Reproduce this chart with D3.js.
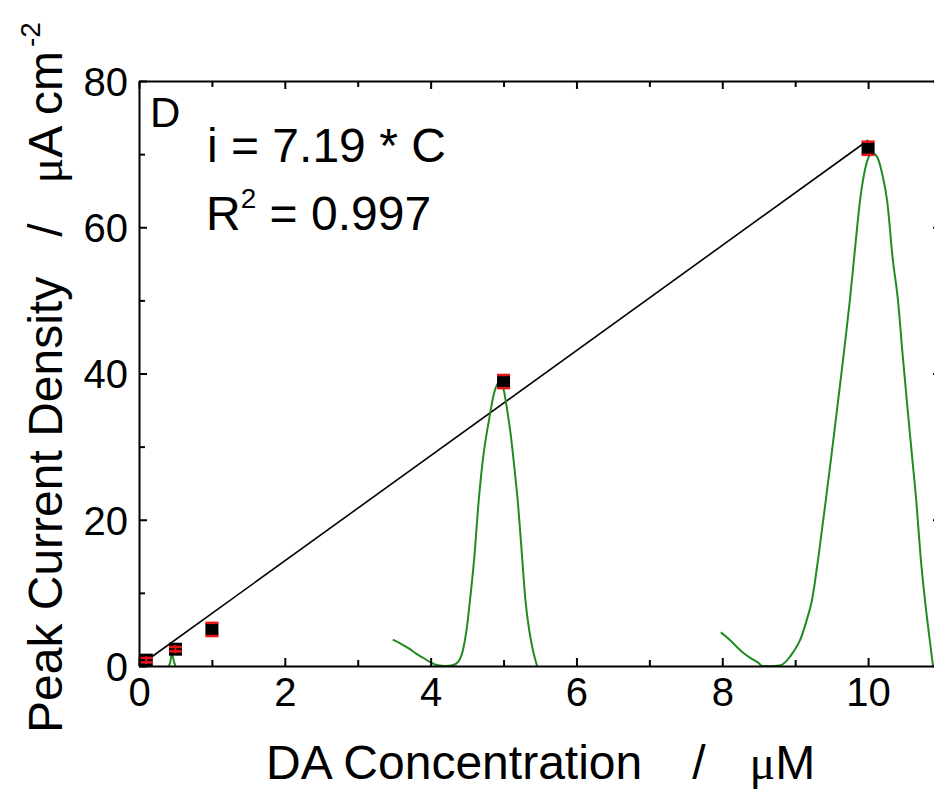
<!DOCTYPE html>
<html>
<head>
<meta charset="utf-8">
<script src="https://cdn.jsdelivr.net/npm/d3@7"></script>
<style>
  html, body { margin: 0; padding: 0; background: #fff; }
  svg { display: block; font-family: "Liberation Sans", Arial, sans-serif; }
  text { white-space: pre; }
</style>
</head>
<body>
<svg id="chart" width="934" height="791"></svg>
<script>
// Calibration points: DA concentration (µM) vs peak current density (µA cm^-2)
const conc    = [0.1, 0.5, 1, 5, 10];
const current = [0.8, 2.3, 5.0, 38.9, 70.8];
const errBar  = [0.3, 0.3, 0.9, 0.9, 0.9];

// Linear fit i = 7.19 * C
const slope = 7.19;
const fitRange = [0.1, 10];

// DPV traces overlaid on the calibration plot
const traceLow = [[0.41,0],[0.43,0.6],[0.45,1.7],[0.48,0.6],[0.50,0]];
const traceMid = [[3.48,3.6],[3.6,3.0],[3.7,2.4],[3.8,1.7],[3.9,1.1],[4.0,0.5],[4.1,0.1],[4.2,0],[4.3,0.1],
  [4.38,0.6],[4.45,2.5],[4.5,5.5],[4.54,9],[4.6,15],[4.66,22.7],[4.72,28.5],[4.8,33.6],[4.87,37.3],
  [4.94,38.8],[5.0,37.8],[5.05,35.0],[5.1,31.5],[5.15,27],[5.2,22],[5.25,15.5],[5.3,9],[5.35,5],
  [5.4,2.3],[5.46,0]];
const traceHigh = [[7.98,4.6],[8.1,3.6],[8.2,2.6],[8.3,1.7],[8.4,1.0],[8.5,0.4],[8.55,0],[8.7,0],[8.8,0.1],
  [8.89,0.8],[8.98,2.0],[9.07,3.6],[9.15,6],[9.23,9],[9.32,15],[9.42,22.7],[9.5,29],[9.59,36.4],
  [9.67,43],[9.75,50],[9.82,57],[9.89,63.7],[9.96,68],[10.02,69.8],[10.07,70.1],[10.13,69.5],
  [10.2,67],[10.26,63.7],[10.34,55.5],[10.41,50],[10.47,43],[10.53,36.4],[10.6,29],[10.66,22.7],
  [10.72,15],[10.78,9],[10.84,4],[10.89,0]];

const xTicks = [0, 2, 4, 6, 8, 10];
const yTicks = [0, 20, 40, 60, 80];
const xDomain = [0, 11];
const yDomain = [0, 80];

const svg = d3.select("#chart");
const m = { left: 139, top: 81, width: 802, height: 585 };

const x = d3.scaleLinear().domain(xDomain).range([m.left, m.left + m.width]);
const y = d3.scaleLinear().domain(yDomain).range([m.top + m.height, m.top]);

svg.append("clipPath").attr("id", "plotClip")
  .append("rect").attr("x", m.left).attr("y", m.top).attr("width", m.width).attr("height", m.height);

const plot = svg.append("g").attr("clip-path", "url(#plotClip)");

// fit line
plot.append("line")
  .attr("x1", x(fitRange[0])).attr("y1", y(slope * fitRange[0]))
  .attr("x2", x(fitRange[1])).attr("y2", y(slope * fitRange[1]))
  .attr("stroke", "#000").attr("stroke-width", 1.6);

// voltammetric traces
const line = d3.line().x(d => x(d[0])).y(d => y(d[1])).curve(d3.curveMonotoneX);
[traceLow, traceMid, traceHigh].forEach(t => {
  plot.append("path").attr("d", line(t))
    .attr("fill", "none").attr("stroke", "#1f8c1f").attr("stroke-width", 2);
});

// error bars + markers
const pts = conc.map((c, i) => ({ c, v: current[i], e: errBar[i] }));
const sq = 13, cap = 13;
plot.selectAll(".ebar").data(pts).enter().append("line")
  .attr("x1", d => x(d.c)).attr("x2", d => x(d.c))
  .attr("y1", d => y(d.v - d.e)).attr("y2", d => y(d.v + d.e))
  .attr("stroke", "#e8141c").attr("stroke-width", 2);
plot.selectAll(".mark").data(pts).enter().append("rect")
  .attr("x", d => x(d.c) - sq / 2).attr("y", d => y(d.v) - sq / 2)
  .attr("width", sq).attr("height", sq).attr("fill", "#000");
pts.forEach(d => {
  [d.v - d.e, d.v + d.e].forEach(v => {
    plot.append("line")
      .attr("x1", x(d.c) - cap / 2).attr("x2", x(d.c) + cap / 2)
      .attr("y1", y(v)).attr("y2", y(v))
      .attr("stroke", "#e8141c").attr("stroke-width", 2.5);
  });
  if (d.e < 0.5) {
    plot.append("line")
      .attr("x1", x(d.c)).attr("x2", x(d.c))
      .attr("y1", y(d.v) - 4).attr("y2", y(d.v) + 4)
      .attr("stroke", "#e8141c").attr("stroke-width", 2);
  }
});

// axes with inward ticks on all sides
const xMinor = d3.range(1, 11, 2);
const yMinor = d3.range(10, 80, 20);
function styleAxis(g) {
  g.select(".domain").attr("stroke", "#000").attr("stroke-width", 2);
  g.selectAll(".tick line").attr("stroke", "#000").attr("stroke-width", 2);
}
function minorStyle(g) {
  g.select(".domain").remove();
  g.selectAll(".tick line").attr("stroke", "#000").attr("stroke-width", 2);
}
const H = m.top + m.height, R = m.left + m.width;

const xb = svg.append("g").attr("transform", `translate(0,${H})`)
  .call(d3.axisBottom(x).tickValues(xTicks).tickSize(-8).tickSizeOuter(0).tickFormat(d3.format("d")));
styleAxis(xb);
xb.selectAll(".tick text").attr("font-size", 40).attr("fill", "#000").attr("dy", 0).attr("y", 40)
  .attr("font-family", "Liberation Sans, Arial, sans-serif");
svg.append("g").attr("transform", `translate(0,${H})`)
  .call(d3.axisBottom(x).tickValues(xMinor).tickSize(-6).tickSizeOuter(0).tickFormat(""))
  .call(minorStyle);

const xt = svg.append("g").attr("transform", `translate(0,${m.top})`)
  .call(d3.axisTop(x).tickValues(xTicks).tickSize(-8).tickSizeOuter(0).tickFormat(""));
styleAxis(xt);
svg.append("g").attr("transform", `translate(0,${m.top})`)
  .call(d3.axisTop(x).tickValues(xMinor).tickSize(-6).tickSizeOuter(0).tickFormat(""))
  .call(minorStyle);

const yl = svg.append("g").attr("transform", `translate(${m.left},0)`)
  .call(d3.axisLeft(y).tickValues(yTicks).tickSize(-8).tickSizeOuter(0).tickFormat(d3.format("d")));
styleAxis(yl);
yl.selectAll(".tick text").attr("font-size", 40).attr("fill", "#000").attr("x", -11).attr("dy", "0.36em")
  .attr("font-family", "Liberation Sans, Arial, sans-serif");
svg.append("g").attr("transform", `translate(${m.left},0)`)
  .call(d3.axisLeft(y).tickValues(yMinor).tickSize(-6).tickSizeOuter(0).tickFormat(""))
  .call(minorStyle);

const yr = svg.append("g").attr("transform", `translate(${R},0)`)
  .call(d3.axisRight(y).tickValues(yTicks).tickSize(-8).tickSizeOuter(0).tickFormat(""));
styleAxis(yr);
svg.append("g").attr("transform", `translate(${R},0)`)
  .call(d3.axisRight(y).tickValues(yMinor).tickSize(-6).tickSizeOuter(0).tickFormat(""))
  .call(minorStyle);

// panel letter and fit annotation
svg.append("text").attr("x", 150).attr("y", 127).attr("font-size", 42).text("D");
svg.append("text").attr("x", 207).attr("y", 162).attr("font-size", 48).text("i = 7.19 * C");
const r2 = svg.append("text").attr("x", 206).attr("y", 230).attr("font-size", 48);
r2.append("tspan").text("R");
r2.append("tspan").attr("font-size", 28).attr("dy", -22).text("2");
r2.append("tspan").attr("dy", 22).text(" = 0.997");

// axis titles
const xTitle = svg.append("text").attr("x", 266).attr("y", 779).attr("font-size", 48);
xTitle.append("tspan").text("DA Concentration   ");
xTitle.append("tspan").attr("dx", 10).text("/   ");
xTitle.append("tspan").attr("dx", 4).attr("font-family", "Liberation Serif, serif").text("μ");
xTitle.append("tspan").text("M");

const yTitle = svg.append("text").attr("transform", "translate(62,733) rotate(-90)").attr("font-size", 48);
yTitle.append("tspan").text("Peak Current Density   /   ");
yTitle.append("tspan").attr("font-family", "Liberation Serif, serif").text("μ");
yTitle.append("tspan").text("A cm");
yTitle.append("tspan").attr("dx", 4).attr("font-size", 28).attr("dy", -22).text("-2");
</script>
</body>
</html>
